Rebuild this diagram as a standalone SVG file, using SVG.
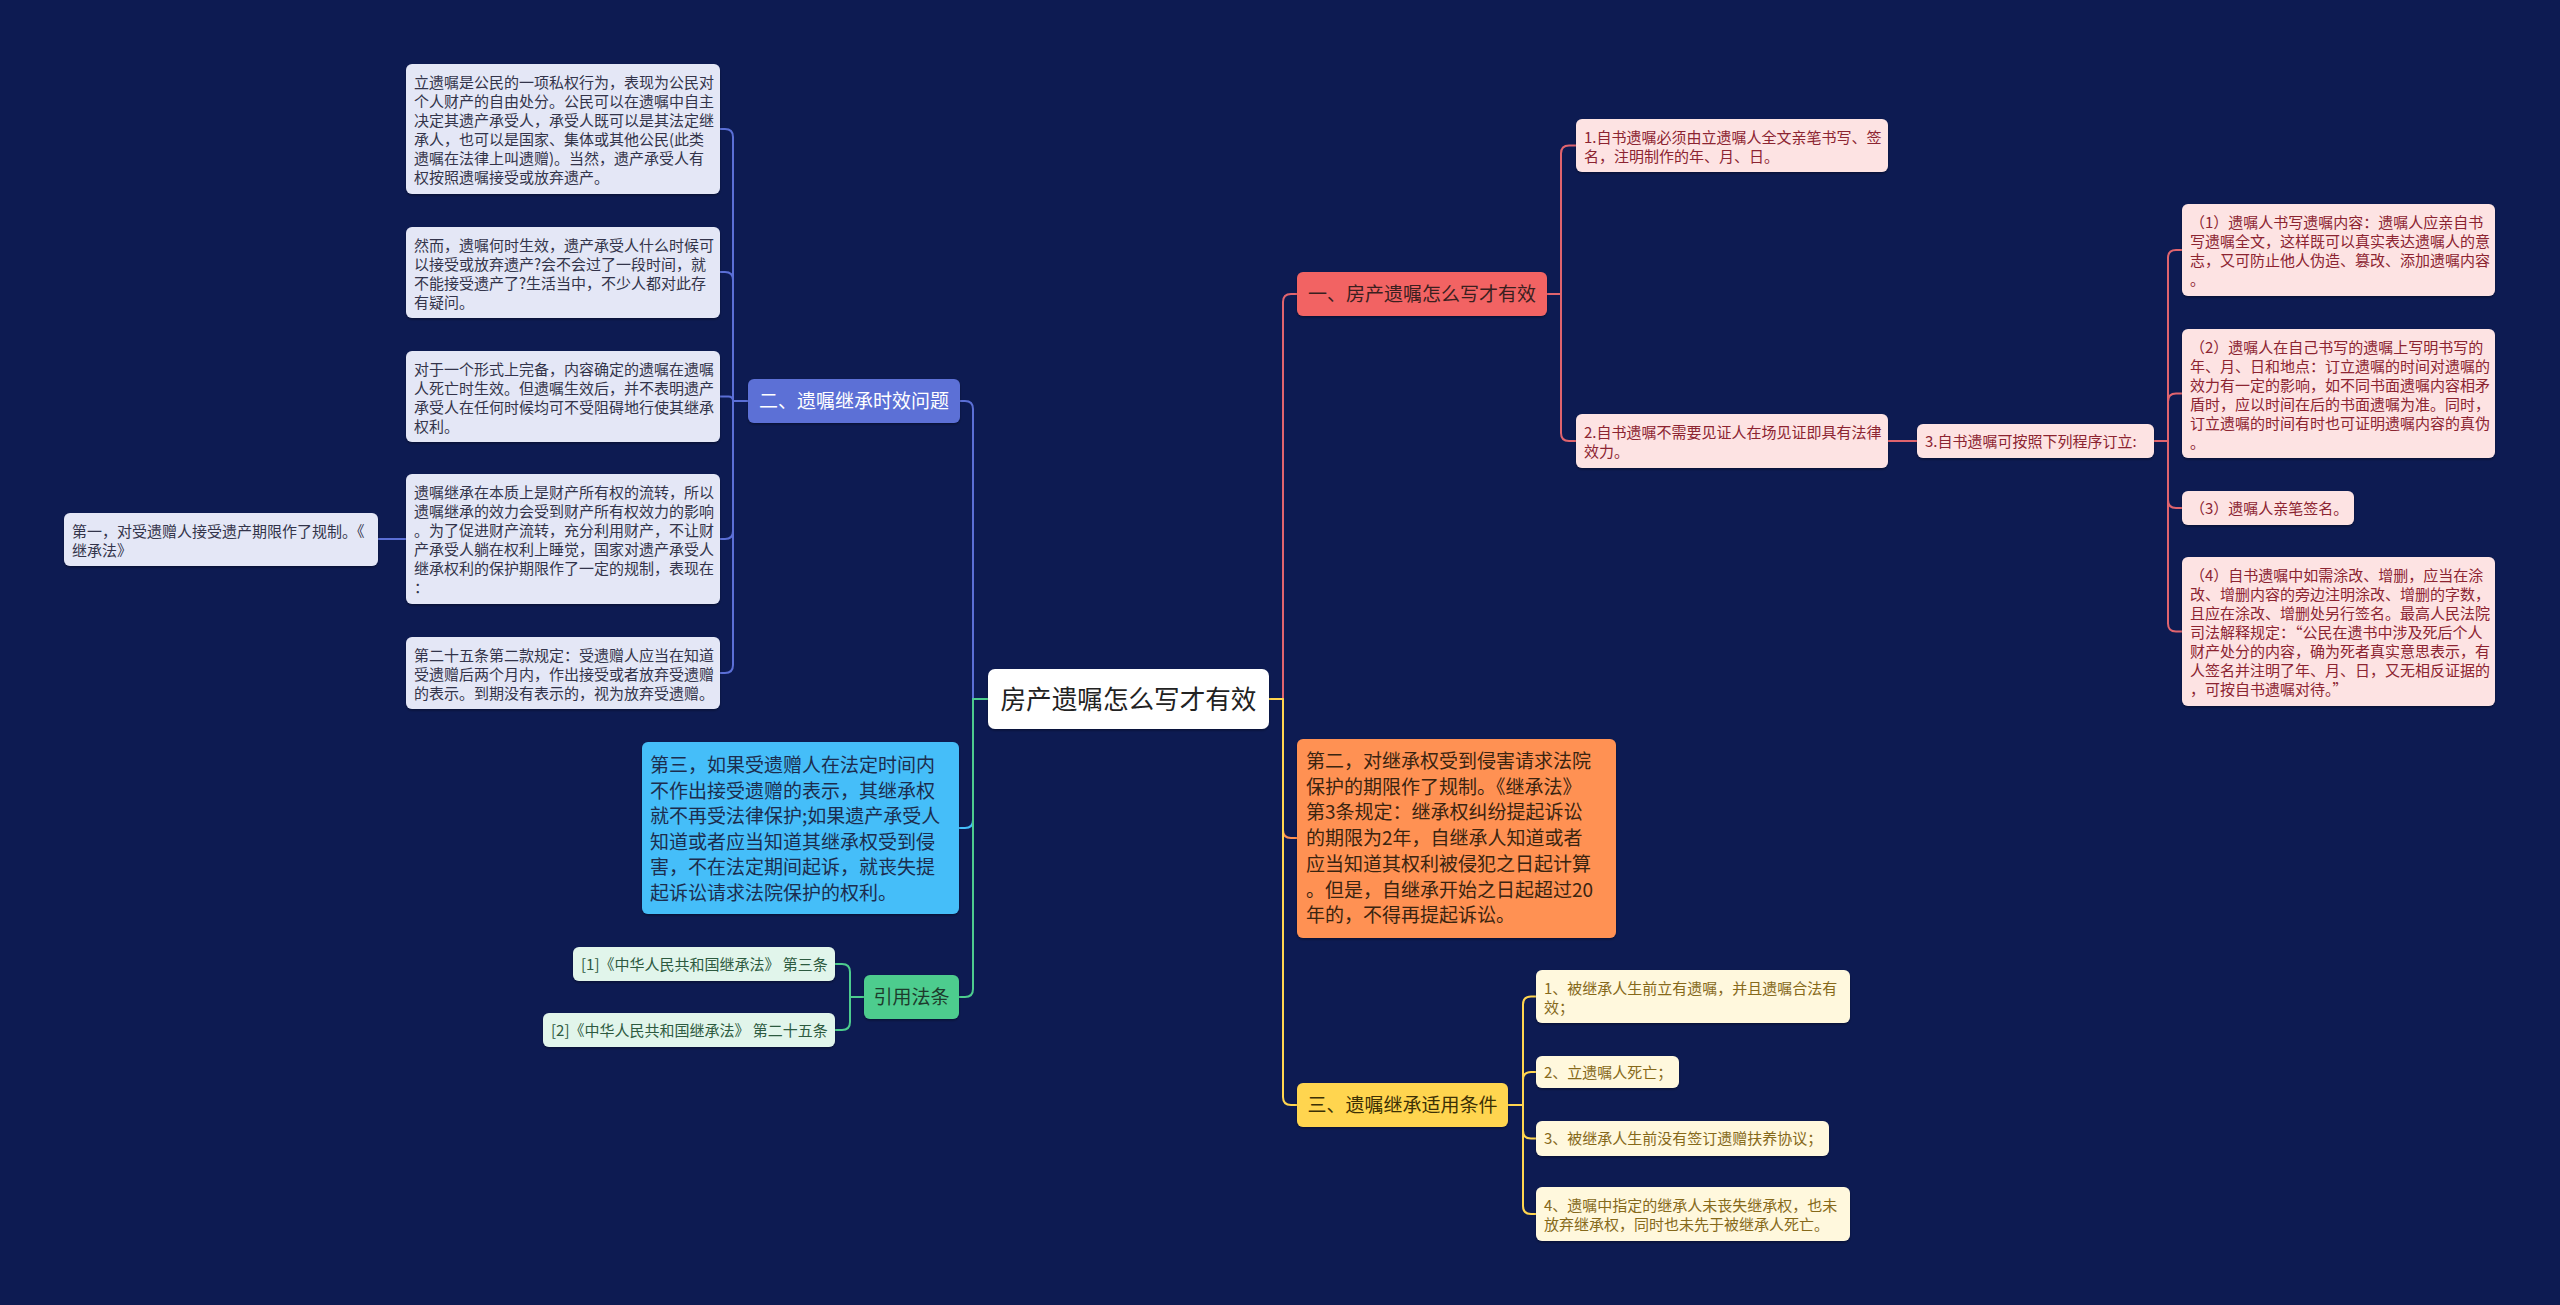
<svg xmlns="http://www.w3.org/2000/svg" width="2560" height="1305" viewBox="0 0 2560 1305">
<defs>
<filter id="sh" x="-5%" y="-10%" width="110%" height="130%">
<feDropShadow dx="0" dy="1.5" stdDeviation="1" flood-color="#000" flood-opacity="0.35"/>
</filter>
<style>
text{font-family:"Noto Sans CJK SC","Noto Sans",sans-serif;}
.s{font-size:15px;}
.m{font-size:19px;}
.b{font-size:25.6px;}
.c{text-anchor:middle;}
rect{filter:url(#sh);}
.ln{fill:none;stroke-width:2;stroke-linecap:round;stroke-linejoin:round;}
.lb{stroke:#5B6FD6;} .lc{stroke:#45BEF9;} .lg{stroke:#4DCC8E;}
.lr{stroke:#E0646E;} .lo{stroke:#FF9152;} .ly{stroke:#FFD54F;}
.fLav{fill:#E4E7F6;} .tLav{fill:#33344a;}
.fRedC{fill:#FDE3E3;} .tRedC{fill:#8c2431;}
.fYelC{fill:#FFF8DD;} .tYelC{fill:#86691a;}
.fGrnC{fill:#E1F5EB;} .tGrnC{fill:#2d5a40;}
</style>
</defs>
<rect x="0" y="0" width="2560" height="1305" fill="#0d1b52" style="filter:none"/>

<g id="connectors">
<path class="ln lb" d="M988,699 H973 V409 Q973,401 965,401 H960"/>
<path class="ln lc" d="M988,699 H973 V820 Q973,828 965,828 H959"/>
<path class="ln lg" d="M988,699 H973 V989 Q973,997 965,997 H959"/>
<path class="ln lb" d="M748,401 H733 V137 Q733,129 725,129 H720"/>
<path class="ln lb" d="M748,401 H733 V280 Q733,272 725,272 H720"/>
<path class="ln lb" d="M748,401 H733 V401 Q733,396.5 728.5,396.5 H720"/>
<path class="ln lb" d="M748,401 H733 V531 Q733,539 725,539 H720"/>
<path class="ln lb" d="M748,401 H733 V665 Q733,673 725,673 H720"/>
<path class="ln lb" d="M406,539 H378"/>
<path class="ln lg" d="M864,997 H850 V972 Q850,964 842,964 H835"/>
<path class="ln lg" d="M864,997 H850 V1022 Q850,1030 842,1030 H835"/>
<path class="ln lr" d="M1269,699 H1283 V302 Q1283,294 1291,294 H1297"/>
<path class="ln lo" d="M1269,699 H1283 V830 Q1283,838 1291,838 H1297"/>
<path class="ln ly" d="M1269,699 H1283 V1097 Q1283,1105 1291,1105 H1297"/>
<path class="ln lr" d="M1547,294 H1561 V153.5 Q1561,145.5 1569,145.5 H1576"/>
<path class="ln lr" d="M1547,294 H1561 V433 Q1561,441 1569,441 H1576"/>
<path class="ln lr" d="M1888,441 H1917"/>
<path class="ln lr" d="M2154,441 H2168 V258 Q2168,250 2176,250 H2182"/>
<path class="ln lr" d="M2154,441 H2168 V401.5 Q2168,393.5 2176,393.5 H2182"/>
<path class="ln lr" d="M2154,441 H2168 V500 Q2168,508 2176,508 H2182"/>
<path class="ln lr" d="M2154,441 H2168 V623.5 Q2168,631.5 2176,631.5 H2182"/>
<path class="ln ly" d="M1508,1105 H1523 V1004.5 Q1523,996.5 1531,996.5 H1536"/>
<path class="ln ly" d="M1508,1105 H1523 V1080 Q1523,1072 1531,1072 H1536"/>
<path class="ln ly" d="M1508,1105 H1523 V1130.5 Q1523,1138.5 1531,1138.5 H1536"/>
<path class="ln ly" d="M1508,1105 H1523 V1206 Q1523,1214 1531,1214 H1536"/>
</g>

<g id="center">
<rect x="988" y="669" width="281" height="60" rx="7" fill="#ffffff"/>
<text class="b c" x="1128.5" y="708.5" fill="#222222">房产遗嘱怎么写才有效</text>
</g>

<g id="branch-2">
<rect x="748" y="379" width="212" height="44" rx="6" fill="#5B6FD6"/>
<text class="m c" x="854" y="408" fill="#ffffff">二、遗嘱继承时效问题</text>
</g>
<g id="b2-c1">
<rect class="fLav" x="406" y="64" width="314" height="130" rx="6"/>
<text class="s tLav" x="414" y="87.5"><tspan x="414">立遗嘱是公民的一项私权行为，表现为公民对</tspan><tspan x="414" dy="19">个人财产的自由处分。公民可以在遗嘱中自主</tspan><tspan x="414" dy="19">决定其遗产承受人，承受人既可以是其法定继</tspan><tspan x="414" dy="19">承人，也可以是国家、集体或其他公民(此类</tspan><tspan x="414" dy="19">遗嘱在法律上叫遗赠)。当然，遗产承受人有</tspan><tspan x="414" dy="19">权按照遗嘱接受或放弃遗产。</tspan></text>
</g>
<g id="b2-c2">
<rect class="fLav" x="406" y="227" width="314" height="91" rx="6"/>
<text class="s tLav" x="414" y="250.5"><tspan x="414">然而，遗嘱何时生效，遗产承受人什么时候可</tspan><tspan x="414" dy="19">以接受或放弃遗产?会不会过了一段时间，就</tspan><tspan x="414" dy="19">不能接受遗产了?生活当中，不少人都对此存</tspan><tspan x="414" dy="19">有疑问。</tspan></text>
</g>
<g id="b2-c3">
<rect class="fLav" x="406" y="351" width="314" height="91" rx="6"/>
<text class="s tLav" x="414" y="374.5"><tspan x="414">对于一个形式上完备，内容确定的遗嘱在遗嘱</tspan><tspan x="414" dy="19">人死亡时生效。但遗嘱生效后，并不表明遗产</tspan><tspan x="414" dy="19">承受人在任何时候均可不受阻碍地行使其继承</tspan><tspan x="414" dy="19">权利。</tspan></text>
</g>
<g id="b2-c4">
<rect class="fLav" x="406" y="474" width="314" height="130" rx="6"/>
<text class="s tLav" x="414" y="497.5"><tspan x="414">遗嘱继承在本质上是财产所有权的流转，所以</tspan><tspan x="414" dy="19">遗嘱继承的效力会受到财产所有权效力的影响</tspan><tspan x="414" dy="19">。为了促进财产流转，充分利用财产，不让财</tspan><tspan x="414" dy="19">产承受人躺在权利上睡觉，国家对遗产承受人</tspan><tspan x="414" dy="19">继承权利的保护期限作了一定的规制，表现在</tspan><tspan x="414" dy="19">：</tspan></text>
</g>
<g id="b2-c4-c1">
<rect class="fLav" x="64" y="513" width="314" height="53" rx="6"/>
<text class="s tLav" x="72" y="536.5"><tspan x="72">第一，对受遗赠人接受遗产期限作了规制。《</tspan><tspan x="72" dy="19">继承法》</tspan></text>
</g>
<g id="b2-c5">
<rect class="fLav" x="406" y="637" width="314" height="72" rx="6"/>
<text class="s tLav" x="414" y="660.5"><tspan x="414">第二十五条第二款规定：受遗赠人应当在知道</tspan><tspan x="414" dy="19">受遗赠后两个月内，作出接受或者放弃受遗赠</tspan><tspan x="414" dy="19">的表示。到期没有表示的，视为放弃受遗赠。</tspan></text>
</g>

<g id="third">
<rect x="642" y="742" width="317" height="172" rx="6" fill="#45BEF9"/>
<text class="m" x="650" y="772" fill="#1c2d4e"><tspan x="650">第三，如果受遗赠人在法定时间内</tspan><tspan x="650" dy="25.6">不作出接受遗赠的表示，其继承权</tspan><tspan x="650" dy="25.6">就不再受法律保护;如果遗产承受人</tspan><tspan x="650" dy="25.6">知道或者应当知道其继承权受到侵</tspan><tspan x="650" dy="25.6">害，不在法定期间起诉，就丧失提</tspan><tspan x="650" dy="25.6">起诉讼请求法院保护的权利。</tspan></text>
</g>

<g id="cite">
<rect x="864" y="975" width="95" height="44" rx="6" fill="#4DCC8E"/>
<text class="m c" x="911.5" y="1004" fill="#1d3b2c">引用法条</text>
</g>
<g id="cite-1">
<rect class="fGrnC" x="573" y="947" width="262" height="34" rx="6"/>
<text class="s tGrnC" x="581" y="969.5">[1]《中华人民共和国继承法》 第三条</text>
</g>
<g id="cite-2">
<rect class="fGrnC" x="543" y="1013" width="292" height="34" rx="6"/>
<text class="s tGrnC" x="551" y="1035.5">[2]《中华人民共和国继承法》 第二十五条</text>
</g>

<g id="branch-1">
<rect x="1297" y="272" width="250" height="44" rx="6" fill="#F26363"/>
<text class="m c" x="1422" y="301" fill="#3a1f1f">一、房产遗嘱怎么写才有效</text>
</g>
<g id="b1-c1">
<rect class="fRedC" x="1576" y="119" width="312" height="53" rx="6"/>
<text class="s tRedC" x="1584" y="142.5"><tspan x="1584">1.自书遗嘱必须由立遗嘱人全文亲笔书写、签</tspan><tspan x="1584" dy="19">名，注明制作的年、月、日。</tspan></text>
</g>
<g id="b1-c2">
<rect class="fRedC" x="1576" y="414" width="312" height="54" rx="6"/>
<text class="s tRedC" x="1584" y="437.5"><tspan x="1584">2.自书遗嘱不需要见证人在场见证即具有法律</tspan><tspan x="1584" dy="19">效力。</tspan></text>
</g>
<g id="b1-c3">
<rect class="fRedC" x="1917" y="424" width="237" height="34" rx="6"/>
<text class="s tRedC" x="1925" y="446.5">3.自书遗嘱可按照下列程序订立:</text>
</g>
<g id="b1-c3-1">
<rect class="fRedC" x="2182" y="204" width="313" height="92" rx="6"/>
<text class="s tRedC" x="2190" y="228"><tspan x="2190">（1）遗嘱人书写遗嘱内容：遗嘱人应亲自书</tspan><tspan x="2190" dy="19">写遗嘱全文，这样既可以真实表达遗嘱人的意</tspan><tspan x="2190" dy="19">志，又可防止他人伪造、篡改、添加遗嘱内容</tspan><tspan x="2190" dy="19">。</tspan></text>
</g>
<g id="b1-c3-2">
<rect class="fRedC" x="2182" y="329" width="313" height="129" rx="6"/>
<text class="s tRedC" x="2190" y="353"><tspan x="2190">（2）遗嘱人在自己书写的遗嘱上写明书写的</tspan><tspan x="2190" dy="19">年、月、日和地点：订立遗嘱的时间对遗嘱的</tspan><tspan x="2190" dy="19">效力有一定的影响，如不同书面遗嘱内容相矛</tspan><tspan x="2190" dy="19">盾时，应以时间在后的书面遗嘱为准。同时，</tspan><tspan x="2190" dy="19">订立遗嘱的时间有时也可证明遗嘱内容的真伪</tspan><tspan x="2190" dy="19">。</tspan></text>
</g>
<g id="b1-c3-3">
<rect class="fRedC" x="2182" y="491" width="172" height="34" rx="6"/>
<text class="s tRedC" x="2190" y="513.5">（3）遗嘱人亲笔签名。</text>
</g>
<g id="b1-c3-4">
<rect class="fRedC" x="2182" y="557" width="313" height="149" rx="6"/>
<text class="s tRedC" x="2190" y="581"><tspan x="2190">（4）自书遗嘱中如需涂改、增删，应当在涂</tspan><tspan x="2190" dy="19">改、增删内容的旁边注明涂改、增删的字数，</tspan><tspan x="2190" dy="19">且应在涂改、增删处另行签名。最高人民法院</tspan><tspan x="2190" dy="19">司法解释规定：“公民在遗书中涉及死后个人</tspan><tspan x="2190" dy="19">财产处分的内容，确为死者真实意思表示，有</tspan><tspan x="2190" dy="19">人签名并注明了年、月、日，又无相反证据的</tspan><tspan x="2190" dy="19">，可按自书遗嘱对待。”</tspan></text>
</g>

<g id="second">
<rect x="1297" y="739" width="319" height="199" rx="6" fill="#FF9152"/>
<text class="m" x="1306" y="768" fill="#3a2410"><tspan x="1306">第二，对继承权受到侵害请求法院</tspan><tspan x="1306" dy="25.7">保护的期限作了规制。《继承法》</tspan><tspan x="1306" dy="25.7">第3条规定：继承权纠纷提起诉讼</tspan><tspan x="1306" dy="25.7">的期限为2年，自继承人知道或者</tspan><tspan x="1306" dy="25.7">应当知道其权利被侵犯之日起计算</tspan><tspan x="1306" dy="25.7">。但是，自继承开始之日起超过20</tspan><tspan x="1306" dy="25.7">年的，不得再提起诉讼。</tspan></text>
</g>

<g id="branch-3">
<rect x="1297" y="1083" width="211" height="44" rx="6" fill="#FFD54F"/>
<text class="m c" x="1402.5" y="1112" fill="#3b3005">三、遗嘱继承适用条件</text>
</g>
<g id="b3-c1">
<rect class="fYelC" x="1536" y="970" width="314" height="53" rx="6"/>
<text class="s tYelC" x="1544" y="993.5"><tspan x="1544">1、被继承人生前立有遗嘱，并且遗嘱合法有</tspan><tspan x="1544" dy="19">效；</tspan></text>
</g>
<g id="b3-c2">
<rect class="fYelC" x="1536" y="1056" width="143" height="32" rx="6"/>
<text class="s tYelC" x="1544" y="1077.5">2、立遗嘱人死亡；</text>
</g>
<g id="b3-c3">
<rect class="fYelC" x="1536" y="1121" width="293" height="35" rx="6"/>
<text class="s tYelC" x="1544" y="1144">3、被继承人生前没有签订遗赠扶养协议；</text>
</g>
<g id="b3-c4">
<rect class="fYelC" x="1536" y="1187" width="314" height="54" rx="6"/>
<text class="s tYelC" x="1544" y="1210.5"><tspan x="1544">4、遗嘱中指定的继承人未丧失继承权，也未</tspan><tspan x="1544" dy="19">放弃继承权，同时也未先于被继承人死亡。</tspan></text>
</g>
</svg>
